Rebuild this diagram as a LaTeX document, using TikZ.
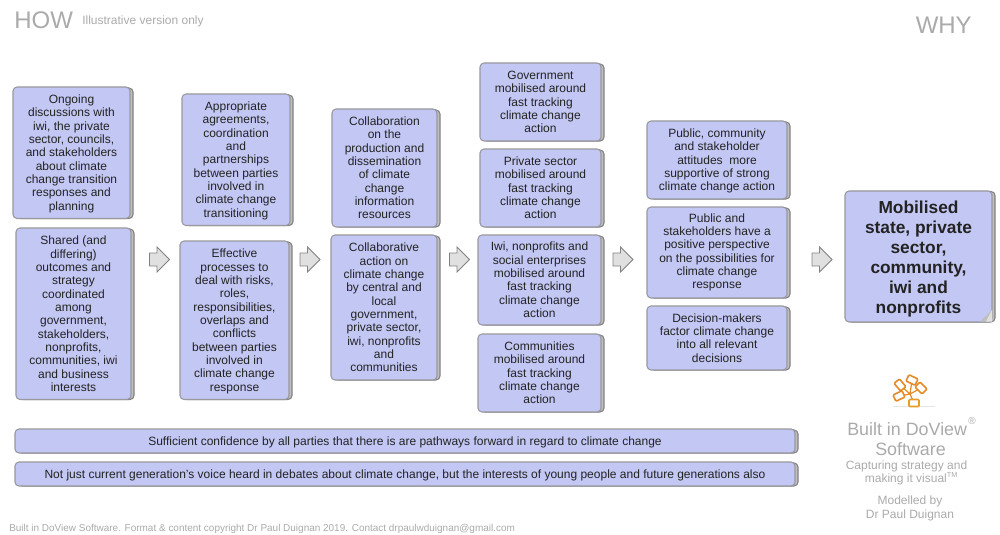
\documentclass[tikz,border=0pt]{standalone}
\usepackage{fontspec}
\setmainfont{Liberation Sans}
\definecolor{boxfill}{RGB}{195,199,243}
\definecolor{boxline}{RGB}{152,152,157}
\definecolor{shade}{RGB}{190,190,190}
\definecolor{greytxt}{RGB}{170,170,170}
\definecolor{txt}{RGB}{35,35,35}
\definecolor{logoor}{RGB}{228,138,40}
\tikzset{
  x=0.75pt,y=-0.75pt,
  sheet/.style={draw=boxline!85!black,fill=shade,line width=0.8pt,rounded corners=3pt},
  facebox/.style={draw=boxline,fill=boxfill,line width=0.8pt,rounded corners=3pt,align=center,
     text=txt,inner sep=0pt,font=\fontsize{9}{10}\selectfont},
  flowarrow/.style={draw=boxline!85!black,fill=black!12,line width=0.7pt,line join=miter},
  greynote/.style={text=greytxt,align=center,inner sep=0pt},
  logobox/.style={draw=logoor,line width=1.2pt,rounded corners=0.8pt,fill=white,inner sep=0pt,minimum width=7.5pt,minimum height=5.2pt},
}
% name, x1, y1, x2, y2, text (px)
\newcommand{\outbox}[6]{%
  \draw[sheet] (#2+3,#3+1) rectangle (#4+3,#5);
  \node[facebox,minimum width={(#4-#2)*0.75pt},minimum height={(#5-#3)*0.75pt}] (#1) at ({(#2+#4)/2},{(#3+#5)/2}) {#6};
}
\newcommand{\dn}{\rule{0pt}{8.1pt}}
% block arrow centred on x = #1 px
\newcommand{\blockarrow}[1]{%
  \draw[flowarrow,shift={(#1,259.5)}] (-10,-6.5) -- (-2.5,-6.5) -- (-2.5,-12.5) -- (10,0) -- (-2.5,12.5) -- (-2.5,6.5) -- (-10,6.5) -- cycle;
}
\begin{document}
\begin{tikzpicture}
\useasboundingbox (0,0) rectangle (1000,535);
\node[anchor=west,greynote,font=\fontsize{18}{18}\selectfont] (how) at (14,20) {HOW};
\node[anchor=west,greynote,font=\fontsize{9}{10}\selectfont] (ill) at (82,21.5) {Illustrative version only};
\node[anchor=east,greynote,font=\fontsize{18}{18}\selectfont] (why) at (972,25) {WHY};

\outbox{a1}{13}{87}{130}{218.5}{\dn Ongoing\\discussions with\\iwi, the private\\sector, councils,\\and stakeholders\\about climate\\change transition\\responses and\\planning}
\outbox{a2}{16}{228}{131}{399.5}{Shared (and\\differing)\\outcomes and\\strategy\\coordinated\\among\\government,\\stakeholders,\\nonprofits,\\communities, iwi\\and business\\interests}
\outbox{b1}{182}{94}{290}{225.5}{\dn Appropriate\\agreements,\\coordination\\and\\partnerships\\between parties\\involved in\\climate change\\transitioning}
\outbox{b2}{180}{241}{289}{399.5}{\dn Effective\\processes to\\deal with risks,\\roles,\\responsibilities,\\overlaps and\\conflicts\\between parties\\involved in\\climate change\\response}
\outbox{c1}{332}{109}{437}{227}{Collaboration\\on the\\production and\\dissemination\\of climate\\change\\information\\resources}
\outbox{c2}{331}{235}{437}{380}{Collaborative\\action on\\climate change\\by central and\\local\\government,\\private sector,\\iwi, nonprofits\\and\\communities}
\outbox{d1}{480}{63}{601}{141}{Government\\mobilised around\\fast tracking\\climate change\\action}
\outbox{d2}{480}{149}{601}{227}{Private sector\\mobilised around\\fast tracking\\climate change\\action}
\outbox{d3}{478}{235}{601}{325}{Iwi, nonprofits and\\social enterprises\\mobilised around\\fast tracking\\climate change\\action}
\outbox{d4}{478}{334}{601}{412}{Communities\\mobilised around\\fast tracking\\climate change\\action}
\outbox{e1}{647}{121}{787}{199}{\dn Public, community\\and stakeholder\\attitudes\ \ more\\supportive of strong\\climate change action}
\outbox{e2}{647}{207}{787}{298}{Public and\\stakeholders have a\\positive perspective\\on the possibilities for\\climate change\\response}
\outbox{e3}{647}{306}{787}{370}{Decision-makers\\factor climate change\\into all relevant\\decisions}

% final outcome box
\draw[sheet] (848,191.5) rectangle (995,322);
\node[facebox,minimum width=110.25pt,minimum height=98.25pt,font=\fontsize{13}{15}\selectfont\bfseries] (goal) at (918.5,256.5)
  {\rule{0pt}{13.1pt}Mobilised\\state, private\\sector,\\community,\\iwi and\\nonprofits};
\fill[black!25] (992,310) -- (992,321.5) -- (980,321.5) -- cycle;
\fill[black!12] (992,310) -- (992,321.5) -- (986,321.5) -- cycle;

\outbox{s1}{15}{429}{795}{453}{\dn Sufficient confidence by all parties that there is are pathways forward in regard to climate change}
\outbox{s2}{15}{462}{795}{486}{\dn Not just current generation's voice heard in debates about climate change, but the interests of young people and future generations also}

\blockarrow{159.5}
\blockarrow{310}
\blockarrow{459.5}
\blockarrow{623}
\blockarrow{822}

% logo
\draw[black!10,line width=0.6pt] (893,406.5) -- (935,406.5);
\coordinate (hub) at (910,394);
\coordinate (c1) at (900,385);
\coordinate (c2) at (912,380);
\coordinate (c3) at (921,388);
\coordinate (c4) at (899,396);
\coordinate (c5) at (914,403);
\draw[logoor,line width=0.9pt] (c5) -- (hub) (hub) -- (c1) (hub) -- (c2) (hub) -- (c3) (hub) -- (c4);
\node[logobox,rotate=-50] (l1) at (c1) {};
\node[logobox,rotate=-25] (l2) at (c2) {};
\node[logobox,rotate=-45] (l3) at (c3) {};
\node[logobox,rotate=25] (l4) at (c4) {};
\node[logobox,draw=logoor!85!yellow] (l5) at (c5) {};

\node[greynote,font=\fontsize{13.4}{15}\selectfont] (built) at (910.5,439) {Built in DoView\hspace*{5pt}\\Software};
\node[greynote,font=\fontsize{7.5}{8}\selectfont] (reg) at (972,421) {\textregistered};
\node[greynote,font=\fontsize{9}{9.75}\selectfont] (cap) at (911.5,472.5) {Capturing strategy and\hspace*{7.5pt}\\making it visual\textsuperscript{\fontsize{5.5}{5.5}\selectfont TM}};
\node[greynote,font=\fontsize{9}{10}\selectfont] (mod) at (910,508.5) {Modelled by\\Dr Paul Duignan};
\node[anchor=west,greynote,font=\fontsize{7.48}{9}\selectfont] (foot) at (9,529) {Built in DoView Software. Format \& content copyright Dr Paul Duignan 2019. Contact drpaulwduignan@gmail.com};
\end{tikzpicture}
\end{document}
